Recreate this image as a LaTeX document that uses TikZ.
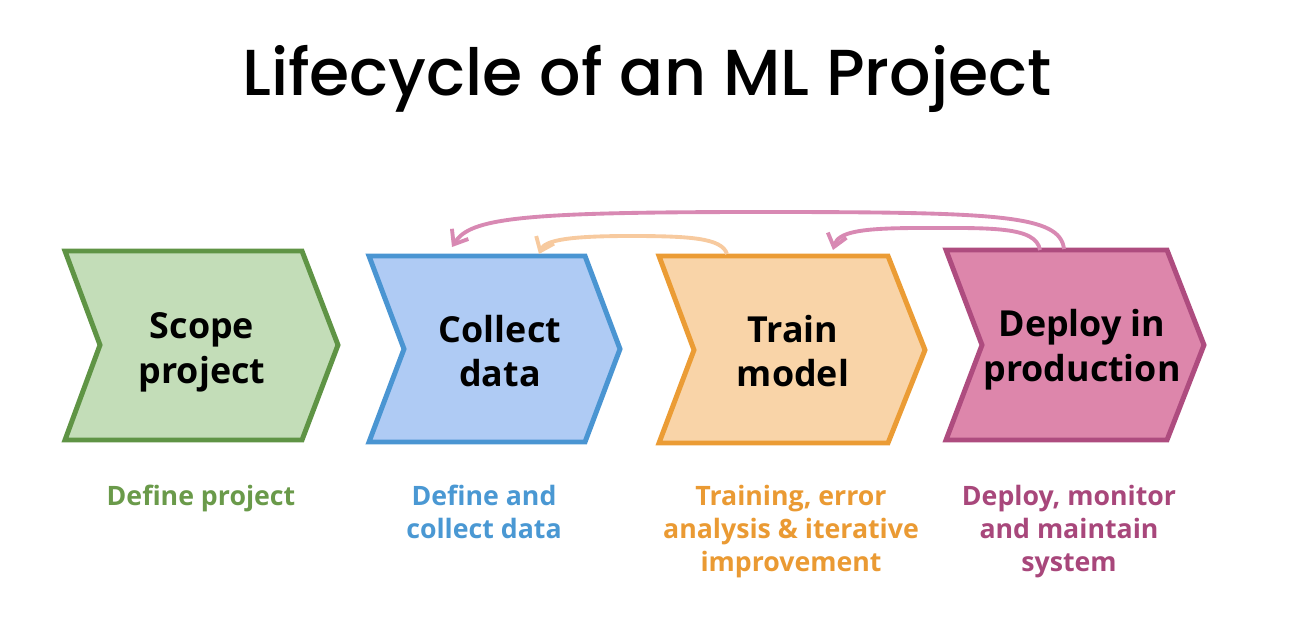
\documentclass[tikz,border=0pt]{standalone}
\usepackage{fontspec}
\IfFontExistsTF{Open Sans SemiBold}{\setmainfont{Open Sans}[BoldFont={Open Sans SemiBold}]}{\setmainfont{Open Sans}}
\IfFontExistsTF{Poppins Medium}{\newfontfamily\titlefont{Poppins Medium}}{\newfontfamily\titlefont{Poppins}[FakeBold=1.2]}
\usetikzlibrary{arrows.meta}
\definecolor{gfill}{HTML}{C3DDB8}
\definecolor{gline}{HTML}{5F9445}
\definecolor{gtext}{HTML}{6A9A4A}
\definecolor{bfill}{HTML}{AFCBF4}
\definecolor{bline}{HTML}{4A95D2}
\definecolor{btext}{HTML}{4A98D3}
\definecolor{ofill}{HTML}{F9D4A8}
\definecolor{oline}{HTML}{EB9C35}
\definecolor{otext}{HTML}{EA9A33}
\definecolor{pfill}{HTML}{DD86AB}
\definecolor{pline}{HTML}{AE4C7F}
\definecolor{ptext}{HTML}{A8477B}
\definecolor{parrow}{HTML}{D889B3}
\definecolor{oarrow}{HTML}{F7CA9F}
\begin{document}
\begin{tikzpicture}[x=0.02cm,y=-0.02cm,
  chev/.style={line width=5*0.567pt,line join=miter},
  label/.style={font=\bfseries\fontsize{20.4pt}{25.5pt}\selectfont,align=center,text=black},
  sub/.style={font=\bfseries\fontsize{15.2pt}{18.7pt}\selectfont,align=center},
  loop/.style={line width=2.2pt,-{Straight Barb[length=7pt,width=11pt,line width=2.2pt]}}]
\useasboundingbox (0,0) rectangle (1301,639);
\node[font=\titlefont\fontsize{37pt}{44pt}\selectfont] (title) at (647,79) {Lifecycle of an ML Project};
% chevrons
\draw[chev,draw=gline,fill=gfill] (65,251) -- (302,251) -- (338,345) -- (302,440) -- (65,440) -- (100,345) -- cycle;
\draw[chev,draw=bline,fill=bfill] (369,256) -- (585,256) -- (620,349) -- (585,442) -- (369,442) -- (404,349) -- cycle;
\draw[chev,draw=oline,fill=ofill] (659,256) -- (888,256) -- (925,350) -- (888,443) -- (659,443) -- (694,350) -- cycle;
\draw[chev,draw=pline,fill=pfill] (946,250) -- (1167,250) -- (1204,345) -- (1167,440) -- (946,440) -- (982,345) -- cycle;
\node[label] (scope) at (202,352) {Scope\\project};
\node[label] (collect) at (500,351) {Collect\\data};
\node[label] (train) at (793,351) {Train\\model};
\node[label] (deploy) at (1082,350) {Deploy in\\production};
% sublabels
\node[sub,text=gtext,anchor=north] (s1) at (201,479) {Define project};
\node[sub,text=btext,anchor=north] (s2) at (484,479) {Define and\\collect data};
\node[sub,text=otext,anchor=north] (s3) at (791,479) {Training, error\\analysis \& iterative\\improvement};
\node[sub,text=ptext,anchor=north] (s4) at (1069,479) {Deploy, monitor\\and maintain\\system};
% feedback arrows
\coordinate (pa) at (1064,249);
\coordinate (pb) at (1040,250);
\coordinate (oa) at (727,254);
\coordinate (t1) at (452,247);
\coordinate (t2) at (833,250);
\coordinate (t3) at (539,254);
\draw[loop,draw=parrow] (pa) .. controls (1060,215) and (1000,212) .. (760,212) .. controls (520,212) and (470,218) .. (t1);
\draw[loop,draw=parrow] (pb) .. controls (1036,226) and (990,228) .. (920,228) .. controls (860,228) and (838,232) .. (t2);
\draw[loop,draw=oarrow] (oa) .. controls (722,238) and (690,236) .. (630,236) .. controls (570,236) and (545,240) .. (t3);
\end{tikzpicture}
\end{document}
